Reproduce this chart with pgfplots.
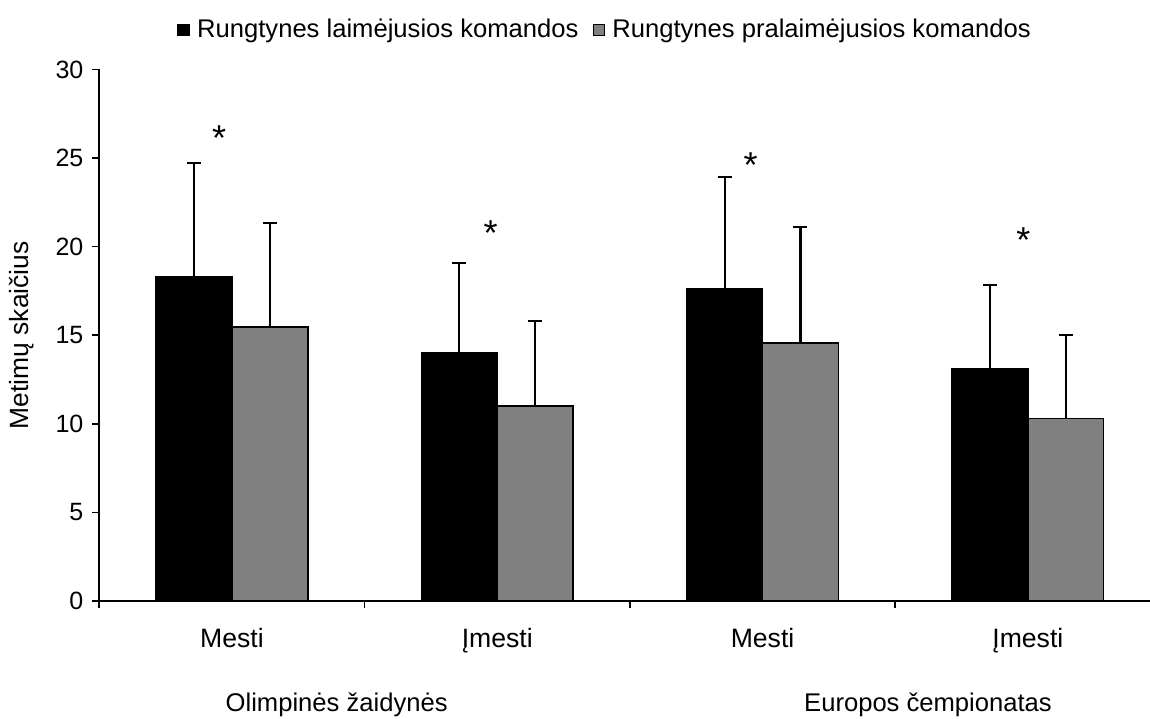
\documentclass[border=0pt]{standalone}
\usepackage{fontspec}
\setmainfont{Liberation Sans}
\usepackage{pgfplots}
\pgfplotsset{compat=1.18}
\definecolor{lossgray}{HTML}{808080}

\pgfplotsset{
  sdbars/.style={
    error bars/.cd,
      y dir=plus, y explicit,
      error mark=|,
      error bar style={line width=1.1pt, draw=black},
      error mark options={line width=1.1pt, mark size=3.5pt, draw=black},
    /pgfplots/.cd,
  },
}

\begin{document}
\fontsize{12.8}{15}\selectfont
\begin{tikzpicture}
\begin{axis}[
  name=ax, at={(0,0)}, anchor=south west,
  x=132.65pt, y=8.86pt,
  xmin=-0.5, xmax=3.5, ymin=0, ymax=30,
  axis x line=bottom, axis y line=left,
  axis line style={line width=0.8pt, -},
  xtick={-0.5,0.5,1.5,2.5,3.5}, xticklabels={},
  ytick={0,5,...,30},
  tick align=outside, major tick length=3.5pt,
  tick style={line width=0.8pt, black},
  ticklabel style={font=\fontsize{12.5}{15}\selectfont},
  /pgf/number format/assume math mode=true,
  ybar, bar width=0.2857,
  clip=false,
  ylabel={Metimų skaičius},
  every axis y label/.style={at={(axis description cs:-0.0728,0.5)}, rotate=90, anchor=center, font=\fontsize{13.2}{15}\selectfont},
  legend columns=2,
  legend style={at={(0.4775,1.0741)}, anchor=center, draw=none, fill=none, inner sep=0pt,
    font=\fontsize{12.8}{15}\selectfont,
    /tikz/every odd column/.append style={column sep=1.5pt},
    /tikz/every even column/.append style={column sep=5pt}},
]
% winning teams
\addplot[fill=black, draw=black, line width=0.8pt, bar shift=-0.14285, sdbars,
  legend image code/.code={\draw[fill=black, draw=black, line width=0.6pt] (0pt,-2.9pt) rectangle (5.8pt,2.9pt);}]
  coordinates {(0,18.30) +- (0,6.42) (1,14.01) +- (0,5.08) (2,17.61) +- (0,6.30) (3,13.09) +- (0,4.73)};
% losing teams
\addplot[fill=lossgray, draw=black, line width=0.8pt, bar shift=0.14285, sdbars,
  legend image code/.code={\draw[fill=lossgray, draw=black, line width=0.6pt] (0pt,-2.9pt) rectangle (5.8pt,2.9pt);}]
  coordinates {(0,15.45) +- (0,5.86) (1,11.02) +- (0,4.78) (2,14.56) +- (0,6.53) (3,10.31) +- (0,4.68)};
\legend{Rungtynes laimėjusios komandos, Rungtynes pralaimėjusios komandos}

% significance markers
\node[anchor=base, inner sep=0pt, font=\fontsize{18}{20}\selectfont] at (axis cs:-0.0488,25.42) {*};
\node[anchor=base, inner sep=0pt, font=\fontsize{18}{20}\selectfont] at (axis cs:0.9753,20.06) {*};
\node[anchor=base, inner sep=0pt, font=\fontsize{18}{20}\selectfont] at (axis cs:1.9553,23.91) {*};
\node[anchor=base, inner sep=0pt, font=\fontsize{18}{20}\selectfont] at (axis cs:2.9829,19.68) {*};

% category and group labels
\node[anchor=base, yshift=-23.35pt, font=\fontsize{13.3}{16}\selectfont] at (axis cs:0,0) {Mesti};
\node[anchor=base, yshift=-23.35pt, font=\fontsize{13.3}{16}\selectfont] at (axis cs:1,0) {Įmesti};
\node[anchor=base, yshift=-23.35pt, font=\fontsize{13.3}{16}\selectfont] at (axis cs:2,0) {Mesti};
\node[anchor=base, yshift=-23.35pt, font=\fontsize{13.3}{16}\selectfont] at (axis cs:3,0) {Įmesti};
\node[anchor=base, yshift=-55.35pt] at (axis cs:0.3948,0) {Olimpinės žaidynės};
\node[anchor=base, yshift=-55.35pt] at (axis cs:2.6236,0) {Europos čempionatas};
\end{axis}
\pgfresetboundingbox
\useasboundingbox (-49.65pt,-58.5pt) rectangle (525.35pt,300.5pt);
\end{tikzpicture}
\end{document}
